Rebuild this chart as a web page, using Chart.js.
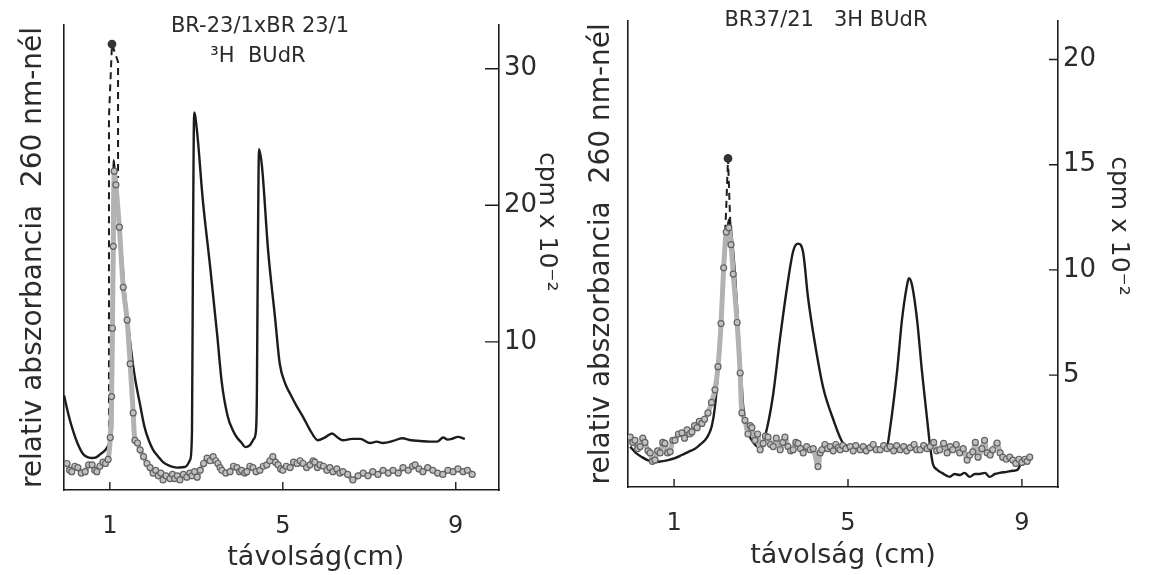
<!DOCTYPE html>
<html>
<head>
<meta charset="utf-8">
<script src="https://cdn.jsdelivr.net/npm/chart.js@4.4.1/dist/chart.umd.min.js"></script>
<style>
    body { margin: 0; background: #fff; }
    #wrap { position: relative; width: 1153px; height: 575px; overflow: hidden; }
    .panel { position: absolute; top: 0; height: 575px; }
    #panel-a { left: 0; width: 576px; }
    #panel-b { left: 560px; width: 593px; }
</style>
</head>
<body>
<div id="wrap">
    <div class="panel" id="panel-a"><canvas id="chart-a"></canvas></div>
    <div class="panel" id="panel-b"><canvas id="chart-b"></canvas></div>
</div>
<script>
Chart.defaults.font.family = '"DejaVu Sans", sans-serif';
Chart.defaults.color = '#2b2b2b';

// shared tick labels
const distTicks = [1, 5, 9];

// --- panel A: BR-23/1 x BR 23/1 ---
const distA = [-0.06, 0.05, 0.12, 0.25, 0.38, 0.50, 0.59, 0.68, 0.77, 0.90,
    1.00, 1.05, 1.07, 1.09, 1.13, 1.23, 1.32, 1.42, 1.50, 1.58,
    1.70, 1.80, 1.90, 2.00, 2.12, 2.23, 2.40, 2.55, 2.74, 2.86,
    2.90, 2.92, 2.95, 3.02, 3.15, 3.32, 3.48, 3.59, 3.73, 3.85,
    3.94, 4.05, 4.13, 4.24, 4.33, 4.38, 4.40, 4.42, 4.45, 4.52,
    4.66, 4.82, 4.93, 5.05, 5.17, 5.32, 5.47, 5.63, 5.81, 5.97,
    6.14, 6.27, 6.39, 6.60, 6.79, 7.02, 7.17, 7.32, 7.55, 7.76,
    7.97, 8.17, 8.40, 8.57, 8.71, 8.81, 8.91, 9.05, 9.21];
const absA = [6.1, 4.6, 3.8, 2.6, 1.8, 1.55, 1.5, 1.55, 1.75, 2.1,
    2.6, 3.6, 10, 23.3, 21.5, 18.2, 14.5, 11.4, 9.2, 7.4,
    5.4, 3.8, 2.8, 2.1, 1.6, 1.2, 0.9, 0.8, 0.85, 1.4,
    3.5, 15, 26.8, 25.3, 20.4, 15.5, 10.6, 7.0, 4.5, 3.5,
    3.0, 2.6, 2.3, 2.45, 2.9, 3.5, 6, 15, 24.1, 22.8,
    16.7, 11.8, 8.4, 7.0, 6.2, 5.3, 4.5, 3.55, 2.8, 3.0,
    3.3, 3.0, 2.8, 2.9, 2.9, 2.6, 2.7, 2.6, 2.75, 2.95,
    2.8, 2.75, 2.7, 2.7, 3.0, 2.85, 2.9, 3.05, 2.9];

const cpmDistA = [0.01, 0.07, 0.12, 0.19, 0.26, 0.34, 0.43, 0.51, 0.59, 0.65,
    0.70, 0.77, 0.84, 0.90, 0.96, 1.01, 1.04, 1.06, 1.08, 1.10,
    1.14, 1.22, 1.31, 1.40, 1.47, 1.54, 1.58, 1.64, 1.70, 1.78,
    1.86, 1.93, 2.00, 2.06, 2.12, 2.18, 2.23, 2.30, 2.39, 2.45,
    2.50, 2.56, 2.62, 2.70, 2.78, 2.85, 2.90, 2.96, 3.02, 3.09,
    3.17, 3.25, 3.32, 3.39, 3.45, 3.50, 3.55, 3.59, 3.68, 3.78,
    3.86, 3.94, 4.00, 4.05, 4.12, 4.17, 4.24, 4.31, 4.38, 4.47,
    4.55, 4.63, 4.70, 4.77, 4.83, 4.89, 4.95, 5.00, 5.08, 5.17,
    5.25, 5.33, 5.40, 5.47, 5.55, 5.63, 5.70, 5.74, 5.80, 5.86,
    5.94, 6.02, 6.09, 6.16, 6.25, 6.32, 6.39, 6.50, 6.62, 6.74,
    6.86, 6.97, 7.08, 7.20, 7.32, 7.44, 7.55, 7.67, 7.78, 7.90,
    8.00, 8.06, 8.15, 8.24, 8.35, 8.47, 8.58, 8.70, 8.82, 8.94,
    9.05, 9.17, 9.27, 9.38];
const cpmA = [1.1, 0.6, 0.5, 0.9, 0.8, 0.4, 0.5, 1.0, 1.0, 0.6,
    0.5, 0.9, 1.2, 1.1, 1.4, 3.0, 6.0, 11.0, 17.0, 22.5,
    21.5, 18.4, 14.0, 11.6, 8.4, 4.8, 2.8, 2.6, 2.1, 1.6,
    1.1, 0.8, 0.4, 0.6, 0.2, 0.4, -0.1, 0.2, 0.0, 0.3,
    0.0, 0.2, -0.1, 0.3, 0.1, 0.4, 0.2, 0.5, 0.1, 0.6,
    1.1, 1.5, 1.3, 1.6, 1.3, 1.1, 0.8, 0.6, 0.4, 0.5,
    0.9, 0.8, 0.5, 0.6, 0.4, 0.5, 0.9, 0.8, 0.5, 0.6,
    0.9, 1.0, 1.3, 1.6, 1.2, 1.0, 0.7, 0.6, 0.9, 0.8,
    1.2, 1.1, 1.3, 1.1, 0.8, 1.0, 1.3, 1.2, 0.8, 1.0,
    0.9, 0.6, 0.8, 0.5, 0.7, 0.4, 0.5, 0.3, -0.1, 0.2,
    0.4, 0.2, 0.5, 0.3, 0.6, 0.4, 0.6, 0.4, 0.8, 0.6,
    0.9, 1.0, 0.7, 0.5, 0.8, 0.6, 0.4, 0.3, 0.6, 0.5,
    0.7, 0.5, 0.6, 0.3];

// dashed extrapolation of the first cpm peak
const peakDistA = [0.98, 0.98, 1.05, 1.19, 1.19];
const peakA = [2.0, 26.5, 31.8, 30.5, 22.0];
const cpmTicksA = [10, 20, 30];

// --- panel B: BR37/21 ---
const distB = [-0.01, 0.12, 0.26, 0.40, 0.56, 0.70, 0.86, 1.02, 1.18, 1.33,
    1.48, 1.60, 1.71, 1.80, 1.87, 1.94, 2.01, 2.08, 2.13, 2.20,
    2.27, 2.33, 2.40, 2.47, 2.54, 2.59, 2.68, 2.79, 2.93, 3.04,
    3.14, 3.28, 3.44, 3.60, 3.74, 3.85, 3.97, 4.08, 4.24, 4.43,
    4.66, 4.89, 5.05, 5.28, 5.50, 5.75, 5.90, 5.97, 6.13, 6.24,
    6.36, 6.40, 6.47, 6.59, 6.70, 6.82, 6.89, 6.95, 7.05, 7.16,
    7.34, 7.45, 7.57, 7.68, 7.80, 7.92, 8.03, 8.15, 8.26, 8.38,
    8.49, 8.65, 8.79, 8.90, 9.00];
const absB = [1.6, 1.3, 1.1, 0.95, 0.87, 0.9, 0.96, 1.05, 1.2, 1.35,
    1.5, 1.7, 1.9, 2.2, 2.6, 3.5, 5.1, 7.3, 9.5, 11.3,
    12.4, 11.5, 9.8, 7.5, 5.1, 3.5, 2.4, 1.9, 1.6, 1.8,
    2.5, 4.1, 6.8, 9.2, 10.9, 11.25, 10.8, 8.7, 6.5, 4.4,
    2.9, 1.75, 1.6, 1.55, 1.6, 1.55, 1.65, 2.5, 5.2, 7.6,
    9.3, 9.6, 9.3, 7.6, 5.2, 2.9, 1.6, 0.8, 0.5, 0.35,
    0.16, 0.3, 0.25, 0.35, 0.16, 0.3, 0.3, 0.35, 0.16, 0.3,
    0.35, 0.4, 0.45, 0.5, 0.9];

const cpmDistB = [-0.01, 0.05, 0.10, 0.16, 0.22, 0.28, 0.33, 0.40, 0.45, 0.50,
    0.56, 0.62, 0.68, 0.74, 0.79, 0.85, 0.91, 0.97, 1.02, 1.10,
    1.18, 1.24, 1.30, 1.36, 1.41, 1.47, 1.53, 1.58, 1.64, 1.70,
    1.78, 1.86, 1.94, 2.01, 2.08, 2.14, 2.20, 2.26, 2.31, 2.36,
    2.45, 2.52, 2.56, 2.63, 2.70, 2.75, 2.79, 2.86, 2.92, 2.98,
    3.05, 3.10, 3.16, 3.22, 3.28, 3.35, 3.44, 3.50, 3.55, 3.62,
    3.68, 3.74, 3.80, 3.85, 3.91, 3.97, 4.05, 4.13, 4.20, 4.31,
    4.36, 4.40, 4.47, 4.53, 4.59, 4.66, 4.72, 4.78, 4.82, 4.88,
    4.95, 5.05, 5.12, 5.18, 5.28, 5.35, 5.42, 5.51, 5.58, 5.65,
    5.74, 5.82, 5.90, 5.97, 6.05, 6.12, 6.20, 6.28, 6.35, 6.43,
    6.52, 6.58, 6.66, 6.74, 6.82, 6.89, 6.97, 7.04, 7.11, 7.20,
    7.28, 7.35, 7.41, 7.49, 7.57, 7.65, 7.74, 7.80, 7.87, 7.93,
    7.99, 8.08, 8.14, 8.20, 8.27, 8.33, 8.43, 8.50, 8.56, 8.64,
    8.72, 8.79, 8.86, 8.93, 9.00, 9.07, 9.12, 9.18];
const cpmB = [2.05, 1.8, 1.9, 1.5, 1.6, 2.0, 1.8, 1.4, 1.3, 0.9,
    0.96, 1.4, 1.3, 1.8, 1.75, 1.3, 1.35, 1.9, 1.9, 2.2,
    2.25, 2.0, 2.4, 2.2, 2.3, 2.6, 2.5, 2.8, 2.7, 2.9,
    3.2, 3.7, 4.3, 5.4, 7.45, 10.1, 11.8, 12.0, 11.2, 9.8,
    7.5, 5.1, 3.2, 2.85, 2.2, 2.6, 2.5, 1.9, 2.2, 1.45,
    1.75, 2.1, 2.05, 1.7, 1.6, 2.0, 1.45, 1.8, 2.05, 1.6,
    1.4, 1.45, 1.8, 1.75, 1.5, 1.3, 1.6, 1.45, 1.5, 0.65,
    1.3, 1.45, 1.7, 1.5, 1.6, 1.4, 1.7, 1.55, 1.45, 1.65,
    1.5, 1.6, 1.4, 1.65, 1.45, 1.6, 1.4, 1.55, 1.7, 1.45,
    1.45, 1.65, 1.5, 1.6, 1.4, 1.65, 1.45, 1.6, 1.4, 1.55,
    1.7, 1.45, 1.45, 1.65, 1.5, 1.6, 1.8, 1.4, 1.45, 1.75,
    1.3, 1.6, 1.45, 1.7, 1.3, 1.5, 0.96, 1.2, 1.35, 1.8,
    1.1, 1.5, 1.9, 1.3, 1.2, 1.45, 1.77, 1.3, 1.1, 1.0,
    1.1, 0.96, 0.8, 1.0, 0.85, 1.0, 0.9, 1.1];

const peakDistB = [2.14, 2.20, 2.24, 2.27, 2.31];
const peakB = [10.1, 13.0, 15.3, 13.5, 11.2];
const cpmTicksB = [5, 10, 15, 20];

const ink = '#1c1c1c';
const textInk = '#2b2b2b';

function toPoints(xs, ys) {
    return xs.map((x, i) => ({ x: x, y: ys[i] }));
}

// small tick marks drawn inwards from the bottom and right axes
const innerTicks = {
    id: 'innerTicks',
    afterDraw(chart, args, opts) {
        const { ctx, chartArea, scales } = chart;
        ctx.save();
        ctx.strokeStyle = ink;
        ctx.lineWidth = 1.4;
        ctx.beginPath();
        scales.x.ticks.forEach(t => {
            const px = scales.x.getPixelForValue(t.value);
            ctx.moveTo(px, chartArea.bottom);
            ctx.lineTo(px, chartArea.bottom - opts.x);
        });
        scales.y.ticks.forEach(t => {
            const py = scales.y.getPixelForValue(t.value);
            ctx.moveTo(chartArea.right, py);
            ctx.lineTo(chartArea.right - opts.y, py);
        });
        ctx.stroke();
        ctx.restore();
    }
};

// sample label written inside the plot, near the top
const panelTitle = {
    id: 'panelTitle',
    afterDraw(chart, args, opts) {
        const ctx = chart.ctx;
        ctx.save();
        ctx.fillStyle = textInk;
        ctx.font = opts.size + 'px "DejaVu Sans", sans-serif';
        ctx.textAlign = 'center';
        ctx.textBaseline = 'middle';
        opts.lines.forEach(line => ctx.fillText(line.text, line.x, line.y));
        ctx.restore();
    }
};

function makePanel(canvasId, p) {
    return new Chart(document.getElementById(canvasId), {
        type: 'line',
        data: {
            datasets: [
                {
                    label: 'cpm',
                    data: toPoints(p.cpmDist, p.cpm),
                    yAxisID: 'y',
                    borderColor: '#b2b2b2',
                    borderWidth: 5,
                    tension: 0.3,
                    pointRadius: 3,
                    pointBackgroundColor: '#c0c0c0',
                    pointBorderColor: '#626262',
                    pointBorderWidth: 1.2
                },
                {
                    label: 'cpm peak',
                    data: toPoints(p.peakDist, p.peak),
                    yAxisID: 'y',
                    borderColor: ink,
                    borderWidth: 2,
                    borderDash: [7, 5],
                    tension: 0,
                    pointRadius: ctx => (ctx.raw && ctx.raw.y === Math.max(...p.peak)) ? 3.4 : 0,
                    pointBackgroundColor: '#333',
                    pointBorderColor: '#333'
                },
                {
                    label: 'A260',
                    data: toPoints(p.dist, p.abs),
                    yAxisID: 'yL',
                    borderColor: ink,
                    borderWidth: 2.4,
                    pointRadius: 0,
                    cubicInterpolationMode: 'monotone'
                }
            ]
        },
        options: {
            responsive: true,
            maintainAspectRatio: false,
            animation: false,
            events: [],
            layout: { padding: p.padding },
            plugins: {
                legend: { display: false },
                tooltip: { enabled: false },
                innerTicks: p.tickLen,
                panelTitle: { size: 21, lines: p.titleLines }
            },
            scales: {
                x: {
                    type: 'linear',
                    min: p.xMin,
                    max: p.xMax,
                    afterBuildTicks: axis => { axis.ticks = distTicks.map(v => ({ value: v })); },
                    afterFit: axis => { axis.height = p.xHeight; },
                    grid: { display: false, drawTicks: false },
                    border: { display: true, color: ink, width: 1.6 },
                    ticks: { font: { size: 24 }, padding: p.xTickPad, color: textInk },
                    title: {
                        display: true,
                        text: p.xTitle,
                        font: { size: 27 },
                        color: textInk,
                        padding: { top: 0, bottom: p.xTitlePad }
                    }
                },
                yL: {
                    position: 'left',
                    min: p.yMin,
                    max: p.yMax,
                    afterFit: axis => { axis.width = 60; },
                    grid: { display: false, drawTicks: false },
                    border: { display: true, color: ink, width: 1.6 },
                    ticks: { display: false },
                    title: {
                        display: true,
                        text: 'relativ abszorbancia  260 nm-nél',
                        font: { size: 28 },
                        color: textInk,
                        padding: { top: p.yLTitlePad, bottom: 0 }
                    }
                },
                y: {
                    position: 'right',
                    min: p.yMin,
                    max: p.yMax,
                    afterBuildTicks: axis => { axis.ticks = p.cpmTicks.map(v => ({ value: v })); },
                    afterFit: axis => { axis.width = p.yWidth; },
                    grid: { display: false, drawTicks: false },
                    border: { display: true, color: ink, width: 1.6 },
                    ticks: { font: { size: 26 }, padding: 5, color: textInk },
                    title: {
                        display: true,
                        text: p.cpmTitle,
                        font: { size: 25 },
                        color: textInk,
                        padding: { top: p.cpmTitlePad, bottom: 0 }
                    }
                }
            }
        },
        plugins: [innerTicks, panelTitle]
    });
}

makePanel('chart-a', {
    dist: distA, abs: absA,
    cpmDist: cpmDistA, cpm: cpmA,
    peakDist: peakDistA, peak: peakA,
    cpmTicks: cpmTicksA,
    xMin: -0.06, xMax: 10.0, yMin: -0.84, yMax: 33.2,
    padding: { left: 4, right: 7, top: 25, bottom: 0 },
    xHeight: 85, yWidth: 70,
    xTickPad: 22, xTitlePad: 1, yLTitlePad: 13, cpmTitlePad: 8,
    xTitle: '        távolság(cm)',
    cpmTitle: 'cpm x 10⁻²         ',
    tickLen: { x: 8, y: 14 },
    titleLines: [
        { text: 'BR-23/1xBR 23/1', x: 260, y: 27 },
        { text: '³H  BUdR', x: 258, y: 57 }
    ]
});

makePanel('chart-b', {
    dist: distB, abs: absB,
    cpmDist: cpmDistB, cpm: cpmB,
    peakDist: peakDistB, peak: peakB,
    cpmTicks: cpmTicksB,
    xMin: -0.06, xMax: 9.83, yMin: -0.32, yMax: 21.85,
    padding: { left: 8, right: 5, top: 20, bottom: 0 },
    xHeight: 88, yWidth: 90,
    xTickPad: 22, xTitlePad: 3, yLTitlePad: 17, cpmTitlePad: 15,
    xTitle: 'távolság (cm)',
    cpmTitle: 'cpm x 10⁻²       ',
    tickLen: { x: 8, y: 9 },
    titleLines: [
        { text: 'BR37/21   3H BUdR', x: 266, y: 21 }
    ]
});
</script>
</body>
</html>
